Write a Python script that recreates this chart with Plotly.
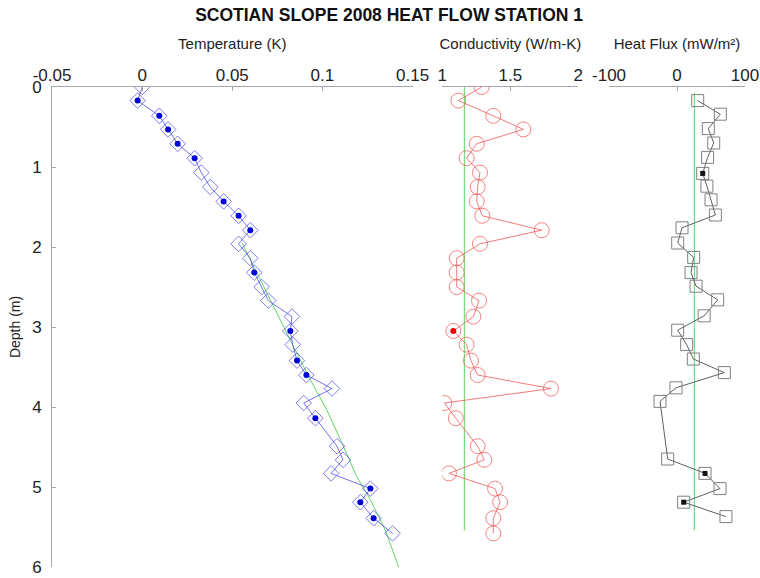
import plotly.graph_objects as go

# Probe depths (m) shared by temperature and conductivity
depth = [0.0, 0.17, 0.36, 0.53, 0.71, 0.89, 1.07, 1.25, 1.43, 1.61, 1.79,
         1.96, 2.14, 2.32, 2.50, 2.67, 2.87, 3.05, 3.22, 3.42, 3.60, 3.77,
         3.95, 4.14, 4.49, 4.66, 4.83, 5.02, 5.19, 5.39, 5.58]

# Temperature anomaly (K)
temperature = [0.0, -0.0025, 0.0095, 0.0144, 0.0197, 0.0291, 0.0328, 0.0378,
               0.0452, 0.0535, 0.0600, 0.0535, 0.0600, 0.0622, 0.0663, 0.0700,
               0.0831, 0.0822, 0.0835, 0.0859, 0.0911, 0.1053, 0.0896, 0.0961,
               0.1081, 0.1114, 0.1048, 0.1266, 0.1210, 0.1284, 0.1389]
# Points flagged in the temperature record (filled dots)
temp_flag_idx = [1, 2, 3, 4, 5, 8, 9, 10, 13, 17, 19, 20, 23, 27, 28, 29]

# Linear temperature fit below 2 m
fit_depth = [1.95, 2.50, 2.91, 3.16, 3.66, 4.04, 4.50, 4.87, 5.16, 5.54, 6.00]
fit_temp = [0.0554, 0.0674, 0.0765, 0.0821, 0.0933, 0.1025, 0.1118, 0.1190,
            0.1266, 0.1349, 0.1423]

# Thermal conductivity (W/m-K)
conductivity = [1.290, 1.118, 1.375, 1.596, 1.253, 1.179, 1.277, 1.260, 1.253,
                1.294, 1.731, 1.277, 1.106, 1.106, 1.106, 1.270, 1.228, 1.081,
                1.179, 1.211, 1.260, 1.799, 1.015, 1.099, 1.260, 1.309, 1.049,
                1.388, 1.425, 1.375, 1.375]
cond_flag_idx = [17]
cond_mean = 1.162
cond_mean_depth = [0.0, 5.54]

# Interval heat flux (mW/m^2)
hf_depth = [0.17, 0.34, 0.52, 0.70, 0.88, 1.08, 1.24, 1.41, 1.60, 1.76, 1.95,
            2.13, 2.32, 2.49, 2.66, 2.86, 3.04, 3.22, 3.40, 3.57, 3.76, 3.93,
            4.65, 4.83, 5.02, 5.19, 5.37]
heat_flux = [30.4, 63.7, 46.0, 54.0, 45.0, 37.8, 44.0, 50.0, 56.4, 7.4, 1.0,
             24.5, 20.6, 28.0, 59.8, 40.0, 1.0, 14.2, 24.0, 69.6, -1.5, -25.0,
             -13.7, 41.2, 63.2, 9.8, 72.0]
hf_flag_idx = [5, 23, 25]
hf_mean = 25.5
hf_mean_depth = [0.08, 5.54]

FONT = "Liberation Sans, Arial, sans-serif"
GREEN = "#5fd85f"
AXIS_GREY = "#a6a6a6"

fig = go.Figure()

# --- Temperature panel ---
fig.add_trace(go.Scatter(
    x=fit_temp, y=fit_depth, mode="lines",
    line=dict(color=GREEN, width=1), xaxis="x", yaxis="y", showlegend=False))
fig.add_trace(go.Scatter(
    x=temperature, y=depth, mode="lines+markers",
    line=dict(color="rgba(70,70,225,0.75)", width=1),
    marker=dict(symbol="diamond-open", size=12,
                color="rgba(80,80,235,0.75)", line=dict(width=1)),
    xaxis="x", yaxis="y", showlegend=False))
fig.add_trace(go.Scatter(
    x=[temperature[i] for i in temp_flag_idx],
    y=[depth[i] for i in temp_flag_idx], mode="markers",
    marker=dict(symbol="circle", size=6, color="#0000d8"),
    xaxis="x", yaxis="y", showlegend=False))

# --- Conductivity panel ---
fig.add_trace(go.Scatter(
    x=[cond_mean, cond_mean], y=cond_mean_depth, mode="lines",
    line=dict(color=GREEN, width=1), xaxis="x2", yaxis="y", showlegend=False))
fig.add_trace(go.Scatter(
    x=conductivity, y=depth, mode="lines+markers",
    line=dict(color="rgba(235,80,80,0.75)", width=1),
    marker=dict(symbol="circle-open", size=15,
                color="rgba(240,90,90,0.75)", line=dict(width=1)),
    xaxis="x2", yaxis="y", showlegend=False))
fig.add_trace(go.Scatter(
    x=[conductivity[i] for i in cond_flag_idx],
    y=[depth[i] for i in cond_flag_idx], mode="markers",
    marker=dict(symbol="circle", size=6, color="#ee0000"),
    xaxis="x2", yaxis="y", showlegend=False))

# --- Heat flux panel ---
fig.add_trace(go.Scatter(
    x=[hf_mean, hf_mean], y=hf_mean_depth, mode="lines",
    line=dict(color=GREEN, width=1), xaxis="x3", yaxis="y", showlegend=False))
fig.add_trace(go.Scatter(
    x=heat_flux, y=hf_depth, mode="lines+markers",
    line=dict(color="#606060", width=1),
    marker=dict(symbol="square-open", size=12, color="#808080",
                line=dict(width=1)),
    xaxis="x3", yaxis="y", showlegend=False))
fig.add_trace(go.Scatter(
    x=[heat_flux[i] for i in hf_flag_idx],
    y=[hf_depth[i] for i in hf_flag_idx], mode="markers",
    marker=dict(symbol="square", size=5, color="#111111"),
    xaxis="x3", yaxis="y", showlegend=False))

xcommon = dict(side="top", anchor="y", showline=True, linecolor=AXIS_GREY,
               linewidth=1, ticks="inside", ticklen=4, tickcolor=AXIS_GREY,
               showgrid=False, zeroline=False, automargin=False,
               ticklabelstandoff=-2,
               tickfont=dict(family=FONT, size=17, color="#222222"),
               title_font=dict(family=FONT, size=15, color="#222222"),
               title_standoff=12)

fig.update_layout(
    width=760, height=578,
    margin=dict(l=52, r=15, t=87, b=11),
    paper_bgcolor="white", plot_bgcolor="white",
    title=dict(text="<b>SCOTIAN SLOPE 2008 HEAT FLOW STATION 1</b>",
               x=0.512, xanchor="center", xref="container",
               y=0.975, yanchor="middle", yref="container",
               font=dict(family=FONT, size=17.5, color="#111111")),
    xaxis=dict(domain=[0.0, 0.5203], range=[-0.05, 0.15],
               tickvals=[-0.05, 0, 0.05, 0.1, 0.15],
               ticktext=["-0.05", "0", "0.05", "0.1", "0.15"],
               title_text="Temperature (K)", **xcommon),
    xaxis2=dict(domain=[0.5632, 0.7595], range=[1, 2],
                tickvals=[1, 1.5, 2], ticktext=["1", "1.5", "2"],
                title_text="Conductivity (W/m-K)", **xcommon),
    xaxis3=dict(domain=[0.8038, 1.0], range=[-100, 100],
                tickvals=[-100, 0, 100], ticktext=["-100", "0", "100"],
                title_text="Heat Flux (mW/m²)", **xcommon),
    yaxis=dict(domain=[0, 1], range=[6, 0], anchor="x",
               tickvals=[0, 1, 2, 3, 4, 5, 6],
               showline=True, linecolor=AXIS_GREY, linewidth=1,
               ticks="inside", ticklen=4, tickcolor=AXIS_GREY,
               showgrid=False, zeroline=False, automargin=False,
               ticklabelstandoff=6,
               tickfont=dict(family=FONT, size=17, color="#222222"),
               title=dict(text="Depth (m)", standoff=8,
                          font=dict(family=FONT, size=14, color="#222222"))),
)

fig.write_html("out.html")
